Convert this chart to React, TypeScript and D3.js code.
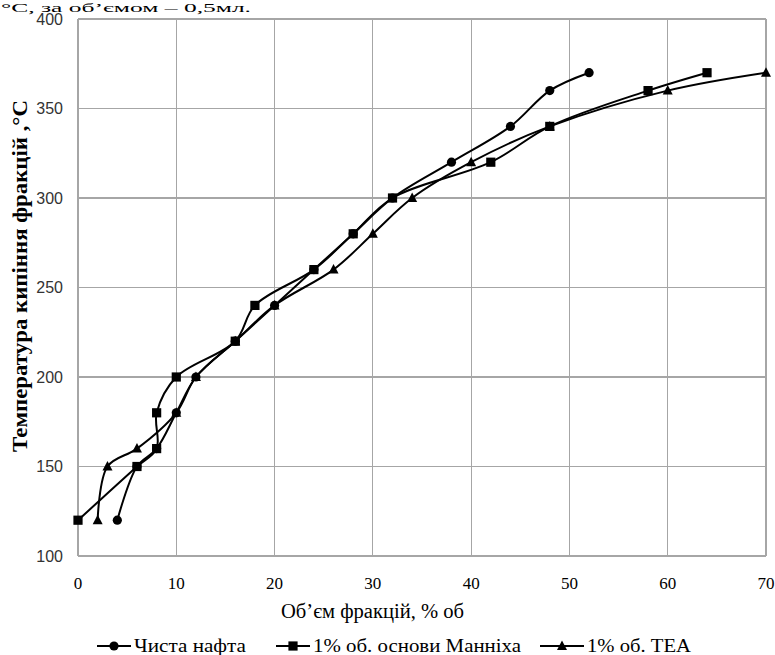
import { useMemo } from "react";
import * as d3 from "d3";

// temperatures (same for every series)
const temps = [120, 150, 160, 180, 200, 220, 240, 260, 280, 300, 320, 340, 360, 370];
// volume of fraction, % for each series
const pureOil = [4, 6, 8, 10, 12, 16, 20, 24, 28, 32, 38, 44, 48, 52];
const mannich = [0, 6, 8, 8, 10, 16, 18, 24, 28, 32, 42, 48, 58, 64];
const tea = [2, 3, 6, 10, 12, 16, 20, 26, 30, 34, 40, 48, 60, 70];

const xTicks = [0, 10, 20, 30, 40, 50, 60, 70];
const yTicks = [100, 150, 200, 250, 300, 350, 400];

const seriesNames = ["Чиста нафта", "1% об. основи Манніха", "1% об. ТЕА"];
const seriesMarkers = ["circle", "square", "triangle"];

const W = 775;
const H = 655;
const serif = "Liberation Serif, Tinos, Times New Roman, DejaVu Serif, serif";
const sans = "Liberation Sans, Arial, sans-serif";

function Marker({ kind, x, y }: { kind: string; x: number; y: number }) {
  if (kind === "circle") return <circle cx={x} cy={y} r={4.6} fill="#000" />;
  if (kind === "square") return <rect x={x - 4.6} y={y - 4.6} width={9.2} height={9.2} fill="#000" />;
  return (
    <path
      d={`M${x},${y - 5.5}L${x + 5},${y + 4}L${x - 5},${y + 4}Z`}
      fill="#000"
    />
  );
}

export default function App() {
  const x = d3.scaleLinear().domain([0, 70]).range([78, 766]);
  const y = d3.scaleLinear().domain([100, 400]).range([556, 19]);

  const series = useMemo(
    () =>
      [pureOil, mannich, tea].map((xs, i) => ({
        name: seriesNames[i],
        marker: seriesMarkers[i],
        points: xs.map((v, j) => [v, temps[j]] as [number, number]),
      })),
    []
  );

  const line = d3
    .line<[number, number]>()
    .x((d) => x(d[0]))
    .y((d) => y(d[1]))
    .curve(d3.curveCatmullRom.alpha(0.5));

  // draw order: circles, triangles, squares on top
  const order = [0, 2, 1];
  const legend = [
    { x0: 97, x1: 131, tx: 134, len: 112 },
    { x0: 276, x1: 310, tx: 313, len: 208 },
    { x0: 540, x1: 584, tx: 587, len: 104 },
  ];

  return (
    <svg
      width={W}
      height={H}
      style={{ position: "absolute", left: 0, top: 0, background: "#fff" }}
    >
      <text
        x={1}
        y={12}
        style={{ fontFamily: serif }}
        fontSize={13}
        fill="#000"
        textLength={250}
        lengthAdjust="spacingAndGlyphs"
      >
        °С, за об’ємом – 0,5мл.
      </text>

      {/* grid */}
      <g stroke="#a6a6a6" strokeWidth={1.2} shapeRendering="crispEdges">
        {xTicks.map((t) => (
          <line key={"gx" + t} x1={x(t)} x2={x(t)} y1={y(400)} y2={y(100)} />
        ))}
        {yTicks.map((t) => (
          <line key={"gy" + t} x1={x(0)} x2={x(70)} y1={y(t)} y2={y(t)} />
        ))}
      </g>

      {/* y tick labels */}
      <g style={{ fontFamily: sans }} fontSize={16} fill="#333" textAnchor="end">
        {yTicks.map((t) => (
          <text key={"ty" + t} x={63} y={y(t)} dy="0.36em">
            {t}
          </text>
        ))}
      </g>
      {/* x tick labels */}
      <g style={{ fontFamily: serif }} fontSize={17} fill="#000" textAnchor="middle">
        {xTicks.map((t) => (
          <text key={"tx" + t} x={x(t)} y={589}>
            {t}
          </text>
        ))}
      </g>

      <text
        x={281}
        y={618}
        style={{ fontFamily: serif }}
        fontSize={20}
        fill="#000"
        textLength={183}
        lengthAdjust="spacingAndGlyphs"
      >
        Об’єм фракцій, % об
      </text>
      <text
        transform="translate(27,276) rotate(-90)"
        style={{ fontFamily: serif }}
        fontSize={20}
        fontWeight="bold"
        textAnchor="middle"
        fill="#000"
        textLength={352}
        lengthAdjust="spacingAndGlyphs"
      >
        Температура кипіння фракцій ,°C
      </text>

      {/* series lines */}
      {order.map((i) => (
        <path
          key={"l" + i}
          d={line(series[i].points) || ""}
          fill="none"
          stroke="#000"
          strokeWidth={2}
        />
      ))}
      {order.map((i) => (
        <g key={"m" + i}>
          {series[i].points.map((p, j) => (
            <Marker key={j} kind={series[i].marker} x={x(p[0])} y={y(p[1])} />
          ))}
        </g>
      ))}

      {/* legend */}
      {series.map((s, i) => (
        <g key={"lg" + i}>
          <line x1={legend[i].x0} x2={legend[i].x1} y1={646} y2={646} stroke="#000" strokeWidth={2} />
          <Marker kind={s.marker} x={(legend[i].x0 + legend[i].x1) / 2} y={646} />
          <text
            x={legend[i].tx}
            y={652}
            style={{ fontFamily: serif }}
            fontSize={19}
            fill="#000"
            textLength={legend[i].len}
            lengthAdjust="spacingAndGlyphs"
          >
            {s.name}
          </text>
        </g>
      ))}
    </svg>
  );
}
